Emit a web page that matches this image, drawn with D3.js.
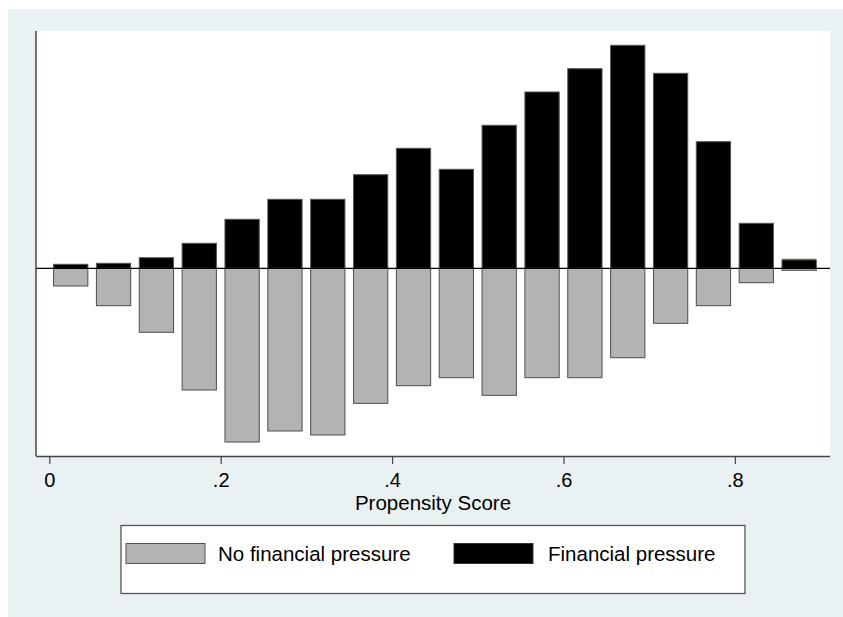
<!DOCTYPE html>
<html>
<head>
<meta charset="utf-8">
<script src="https://cdn.jsdelivr.net/npm/d3@7"></script>
<style>
  html, body { margin: 0; padding: 0; background: #ffffff; }
  text { font-family: "Liberation Sans", Arial, sans-serif; fill: #000; }
</style>
</head>
<body>
<svg id="chart" width="843" height="617"></svg>
<script>
// Propensity score bins (bin centres, width 0.05)
const binCenters = [0.025, 0.075, 0.125, 0.175, 0.225, 0.275, 0.325, 0.375, 0.425,
                    0.475, 0.525, 0.575, 0.625, 0.675, 0.725, 0.775, 0.825, 0.875];
// Bar heights per bin (treated drawn above zero, untreated mirrored below)
const treated   = [4, 5, 10.6, 25, 49, 69, 69, 93.6, 120, 99, 143, 176.3, 199.6, 223, 195, 126.6, 45, 8.3];
const untreated = [17.7, 37.4, 64, 121.7, 173.7, 162.7, 166.7, 135, 117.4, 109.4, 127, 109.4, 109.4, 89.4, 55, 37.4, 14.4, 2];
// Treated observations off common support, stacked on the treated bars
const offSupport = [0, 0, 0, 0, 0, 0, 0, 0, 0, 0, 0, 0, 0, 0, 0, 0, 0, 1.2];
const xTicks = [0, 0.2, 0.4, 0.6, 0.8];
const xTickLabels = ["0", ".2", ".4", ".6", ".8"];
const legendLabels = ["No financial pressure", "Financial pressure"];

const svg = d3.select("#chart");
const plot = { left: 36, right: 830, top: 31, bottom: 456 };
const barWidth = 0.04;

// outer graph region
svg.append("rect").attr("x", 8).attr("y", 9).attr("width", 835).attr("height", 608)
  .attr("fill", "#eaf1f3");
// plot region
svg.append("rect").attr("x", plot.left).attr("y", plot.top)
  .attr("width", plot.right - plot.left).attr("height", plot.bottom - plot.top)
  .attr("fill", "#ffffff");

const x = d3.scaleLinear().domain([-0.0155, 0.911]).range([plot.left, plot.right]);
const y = d3.scaleLinear().domain([-187.7, 237.3]).range([plot.bottom, plot.top]);

const bars = binCenters.map((c, i) => ({ c, t: treated[i], u: untreated[i], o: offSupport[i] }));

// untreated (below zero)
svg.append("g").selectAll("rect").data(bars).join("rect")
  .attr("x", d => x(d.c - barWidth / 2))
  .attr("width", d => x(d.c + barWidth / 2) - x(d.c - barWidth / 2))
  .attr("y", y(0))
  .attr("height", d => y(-d.u) - y(0))
  .attr("fill", "#b3b3b3").attr("stroke", "#4d4d4d").attr("stroke-width", 1);

// treated, on support (above zero)
svg.append("g").selectAll("rect").data(bars).join("rect")
  .attr("x", d => x(d.c - barWidth / 2))
  .attr("width", d => x(d.c + barWidth / 2) - x(d.c - barWidth / 2))
  .attr("y", d => y(d.t))
  .attr("height", d => y(0) - y(d.t))
  .attr("fill", "#000000").attr("stroke", "#555555").attr("stroke-width", 1);

// treated, off support
svg.append("g").selectAll("rect").data(bars.filter(d => d.o > 0)).join("rect")
  .attr("x", d => x(d.c - barWidth / 2))
  .attr("width", d => x(d.c + barWidth / 2) - x(d.c - barWidth / 2))
  .attr("y", d => y(d.t + d.o))
  .attr("height", d => y(d.t) - y(d.t + d.o))
  .attr("fill", "#4d7a2a").attr("stroke", "none");

// zero line
svg.append("line").attr("x1", plot.left).attr("x2", plot.right)
  .attr("y1", y(0)).attr("y2", y(0)).attr("stroke", "#000").attr("stroke-width", 1.2);

// left axis line
svg.append("line").attr("x1", plot.left).attr("x2", plot.left)
  .attr("y1", plot.top).attr("y2", plot.bottom).attr("stroke", "#444").attr("stroke-width", 1.5);

// x axis
const xAxis = d3.axisBottom(x).tickValues(xTicks)
  .tickFormat((d, i) => xTickLabels[i]).tickSize(8).tickPadding(9);
const gx = svg.append("g").attr("transform", `translate(0,${plot.bottom})`).call(xAxis);
gx.select(".domain").attr("d", `M${plot.left},0.5H${plot.right}`)
  .attr("stroke", "#444").attr("stroke-width", 1.5);
gx.selectAll(".tick line").attr("stroke", "#444").attr("stroke-width", 1.2);
gx.selectAll(".tick text").attr("font-size", 20)
  .attr("font-family", "'Liberation Sans', Arial, sans-serif").attr("fill", "#000");

// axis title
svg.append("text").attr("x", (plot.left + plot.right) / 2).attr("y", 510)
  .attr("text-anchor", "middle").attr("font-size", 20.5).text("Propensity Score");

// legend
const lg = svg.append("g");
lg.append("rect").attr("x", 121).attr("y", 525.5).attr("width", 624).attr("height", 68)
  .attr("fill", "#fff").attr("stroke", "#555").attr("stroke-width", 1.3);
const keys = [
  { x: 126, fill: "#b3b3b3", stroke: "#555", tx: 218 },
  { x: 454, fill: "#000", stroke: "#333", tx: 548 }
];
keys.forEach((k, i) => {
  lg.append("rect").attr("x", k.x).attr("y", 543.5).attr("width", 79).attr("height", 20)
    .attr("fill", k.fill).attr("stroke", k.stroke).attr("stroke-width", 1);
  lg.append("text").attr("x", k.tx).attr("y", 561).attr("font-size", 20.5).text(legendLabels[i]);
});
</script>
</body>
</html>
